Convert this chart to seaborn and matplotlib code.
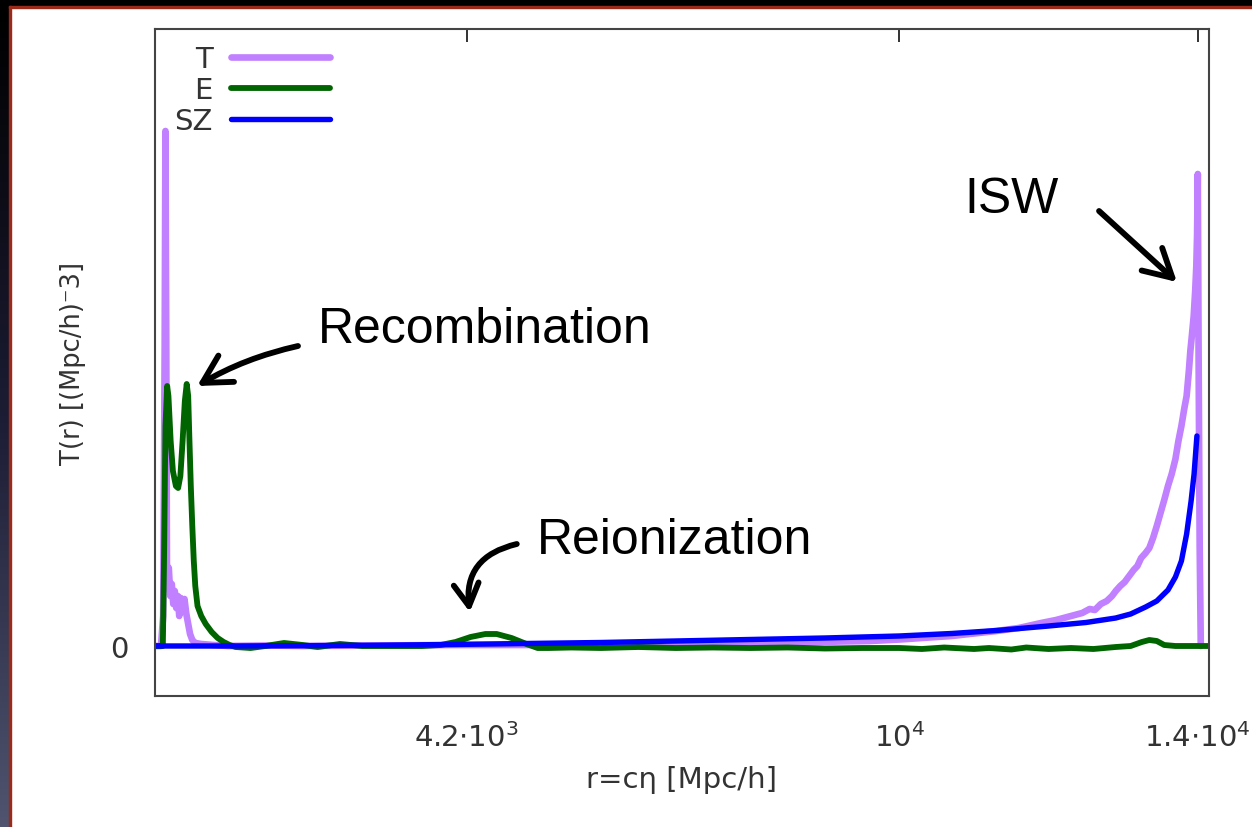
import matplotlib
matplotlib.use("Agg")
import numpy as np
import matplotlib.pyplot as plt
import seaborn as sns
from matplotlib.colors import LinearSegmentedColormap

# Temperature transfer function T(r)
r_T = [20, 100, 130, 150, 160, 170, 180, 205, 225, 245, 265, 285, 305, 325, 345,
       365, 390, 415, 440, 465, 490, 520, 560, 640, 800, 1000, 1500, 2000, 3000,
       4000, 5000, 6000, 7000, 8000, 8700, 9200, 9600, 10000, 10300, 10700, 11000,
       11300, 11600, 11900, 12100, 12300, 12450, 12550, 12620, 12700, 12780, 12850,
       12900, 12960, 13020, 13080, 13140, 13190, 13240, 13300, 13350, 13400, 13450,
       13500, 13550, 13600, 13650, 13700, 13740, 13780, 13820, 13850, 13880, 13900,
       13920, 13945, 13965, 13980, 13990, 14000, 14010, 14025, 14040]
T_vals = [0.0, 0.0, 0.3, 3.0, 5.15, 3.2, 0.8, 0.78, 0.5, 0.62, 0.42, 0.55, 0.38, 0.5,
          0.3, 0.48, 0.35, 0.47, 0.32, 0.22, 0.12, 0.06, 0.03, 0.02, 0.01, 0.0,
          0.005, 0.0, 0.005, 0.01, 0.01, 0.015, 0.02, 0.03, 0.035, 0.045, 0.05,
          0.065, 0.08, 0.1, 0.125, 0.15, 0.18, 0.23, 0.26, 0.3, 0.33, 0.37, 0.36,
          0.42, 0.45, 0.5, 0.55, 0.6, 0.64, 0.7, 0.76, 0.8, 0.88, 0.93, 0.98, 1.08,
          1.2, 1.33, 1.46, 1.6, 1.72, 1.87, 2.05, 2.2, 2.38, 2.5, 2.75, 2.95, 3.1,
          3.3, 3.55, 3.8, 4.1, 4.72, 3.0, 1.0, 0.0]

# Polarisation transfer function E(r)
r_E = [20, 100, 125, 140, 160, 183, 200, 230, 260, 300, 330, 360, 390, 420, 445, 465,
       480, 500, 520, 540, 560, 590, 640, 700, 780, 860, 940, 1020, 1100, 1300, 1500,
       1750, 2000, 2200, 2500, 2800, 3200, 3600, 3850, 4050, 4250, 4450, 4600, 4800,
       5000, 5150, 5300, 5600, 6000, 6500, 7000, 7500, 8000, 8500, 9000, 9500, 10000,
       10300, 10600, 11000, 11200, 11500, 11700, 12000, 12300, 12600, 12900, 13100,
       13250, 13350, 13450, 13550, 13700, 14150]
E_vals = [0.0, 0.0, 0.0, 0.8, 2.2, 2.6, 2.5, 2.05, 1.75, 1.6, 1.58, 1.7, 2.05, 2.45,
          2.62, 2.5, 2.1, 1.6, 1.2, 0.85, 0.6, 0.4, 0.3, 0.22, 0.14, 0.08, 0.04, 0.01,
          -0.01, -0.02, 0.0, 0.03, 0.01, -0.01, 0.02, 0.0, 0.0, 0.0, 0.01, 0.04, 0.09,
          0.12, 0.12, 0.08, 0.02, -0.02, -0.02, -0.015, -0.02, -0.01, -0.02, -0.015,
          -0.02, -0.015, -0.025, -0.02, -0.02, -0.03, -0.015, -0.03, -0.02, -0.035,
          -0.015, -0.03, -0.02, -0.03, -0.01, 0.0, 0.04, 0.06, 0.05, 0.01, 0.0, 0.0]

# Sunyaev-Zel'dovich transfer function
r_SZ = [20, 1000, 2000, 3000, 4000, 5000, 6000, 7000, 8000, 9000, 10000, 10700,
        11300, 12000, 12500, 12900, 13100, 13300, 13450, 13600, 13700, 13780, 13850,
        13910, 13950, 13988]
SZ_vals = [0.0, 0.0, 0.003, 0.008, 0.015, 0.025, 0.035, 0.05, 0.065, 0.08, 0.1,
           0.125, 0.155, 0.2, 0.235, 0.28, 0.32, 0.39, 0.45, 0.56, 0.69, 0.85, 1.12,
           1.45, 1.72, 2.1]

x_ticks = [4200, 10000, 14000]
x_ticklabels = [r"4.2$\cdot$10$^{3}$", r"10$^{4}$", r"1.4$\cdot$10$^{4}$"]

sns.set_theme(style="white")
plt.rcParams['font.family'] = ['DejaVu Sans']
plt.rcParams['mathtext.fontset'] = 'dejavusans'
plt.rcParams['mathtext.default'] = 'regular'

W, H = 1252, 828
fig = plt.figure(figsize=(W / 100, H / 100), dpi=100)
fig.patch.set_facecolor("white")

# slide frame: dark top band and gradient left band with red edge
fig.add_artist(plt.Rectangle((0, 1 - 7 / H), 1, 7 / H, transform=fig.transFigure,
                             color="black"))
fig.add_artist(plt.Rectangle((9 / W, 1 - 9 / H), 1, 2 / H, transform=fig.transFigure,
                             color="#9a2a1a"))
left = fig.add_axes([0, 0, 9 / W, 1 - 7 / H])
grad = np.linspace(0, 1, 256)[:, None]
cm = LinearSegmentedColormap.from_list("slate", ["#000000", "#1c1c34", "#50546e"])
left.imshow(grad, aspect="auto", cmap=cm, origin="upper", extent=[0, 1, 0, 1])
left.set_axis_off()
fig.add_artist(plt.Rectangle((9 / W, 0), 2 / W, 1 - 7 / H, transform=fig.transFigure,
                             color="#9a2a1a"))

ax = fig.add_axes([155 / W, 131 / H, (1209 - 155) / W, (697 - 30) / H])
sns.lineplot(x=r_T, y=T_vals, ax=ax, color="#c080ff", lw=4.8, label="T",
             estimator=None, sort=False)
sns.lineplot(x=r_E, y=E_vals, ax=ax, color="#006400", lw=4.2, label="E",
             estimator=None, sort=False)
sns.lineplot(x=r_SZ, y=SZ_vals, ax=ax, color="#0000ff", lw=3.9, label="SZ",
             estimator=None, sort=False)

ax.set_xlim(20, 14150)
ax.set_ylim(-0.5, 6.17)
ax.set_xticks(x_ticks)
ax.set_xticklabels(x_ticklabels)
ax.set_yticks([0])
ax.set_yticklabels(["0"])
gray = "#333333"
fs = 21
ax.tick_params(axis="both", direction="in", length=9, width=1.3, colors="#222222",
               labelsize=fs, labelcolor=gray, top=True, right=True)
ax.tick_params(axis="x", pad=19)
ax.tick_params(axis="y", pad=19)
for s in ax.spines.values():
    s.set_color("#444444")
    s.set_linewidth(1.5)
ax.set_xlabel("r=cη [Mpc/h]", fontsize=fs, color=gray, labelpad=9)
ax.set_ylabel("T(r) [(Mpc/h)⁻3]", fontsize=18.5, color=gray, labelpad=17.5)

leg = ax.legend(loc="upper right", bbox_to_anchor=((330 - 155) / 1054, 0.976),
                frameon=False, markerfirst=False, fontsize=fs, handlelength=3.4,
                handletextpad=0.62, labelspacing=0.11, borderaxespad=0.0,
                borderpad=0.0)
for t in leg.get_texts():
    t.set_color(gray)

# hand-drawn style annotations
ann = dict(fontsize=36, color="black", family=["Liberation Sans", "DejaVu Sans"],
           va="center", ha="left")
arrow = dict(arrowstyle="->,head_length=1.0,head_width=0.55", mutation_scale=20,
             lw=4.2, color="black", capstyle="round", joinstyle="round",
             shrinkA=0, shrinkB=0)
small_arrow = dict(arrow, arrowstyle="->,head_length=0.8,head_width=0.45")
ax.annotate("", xy=(585, 2.6), xytext=(1937, 3.0),
            arrowprops=dict(arrow, connectionstyle="arc3,rad=0.08"))
ax.text(2205, 3.17, "Recombination", **ann)
ax.annotate("", xy=(4240, 0.34), xytext=(4870, 1.02),
            arrowprops=dict(small_arrow, connectionstyle="arc3,rad=0.45"))
ax.text(5137, 1.06, "Reionization", **ann)
ax.annotate("", xy=(13720, 3.64), xytext=(12676, 4.35),
            arrowprops=dict(arrow, connectionstyle="arc3,rad=0.0"))
ax.text(10868, 4.47, "ISW", **ann)

fig.savefig("out.png", dpi=100)
